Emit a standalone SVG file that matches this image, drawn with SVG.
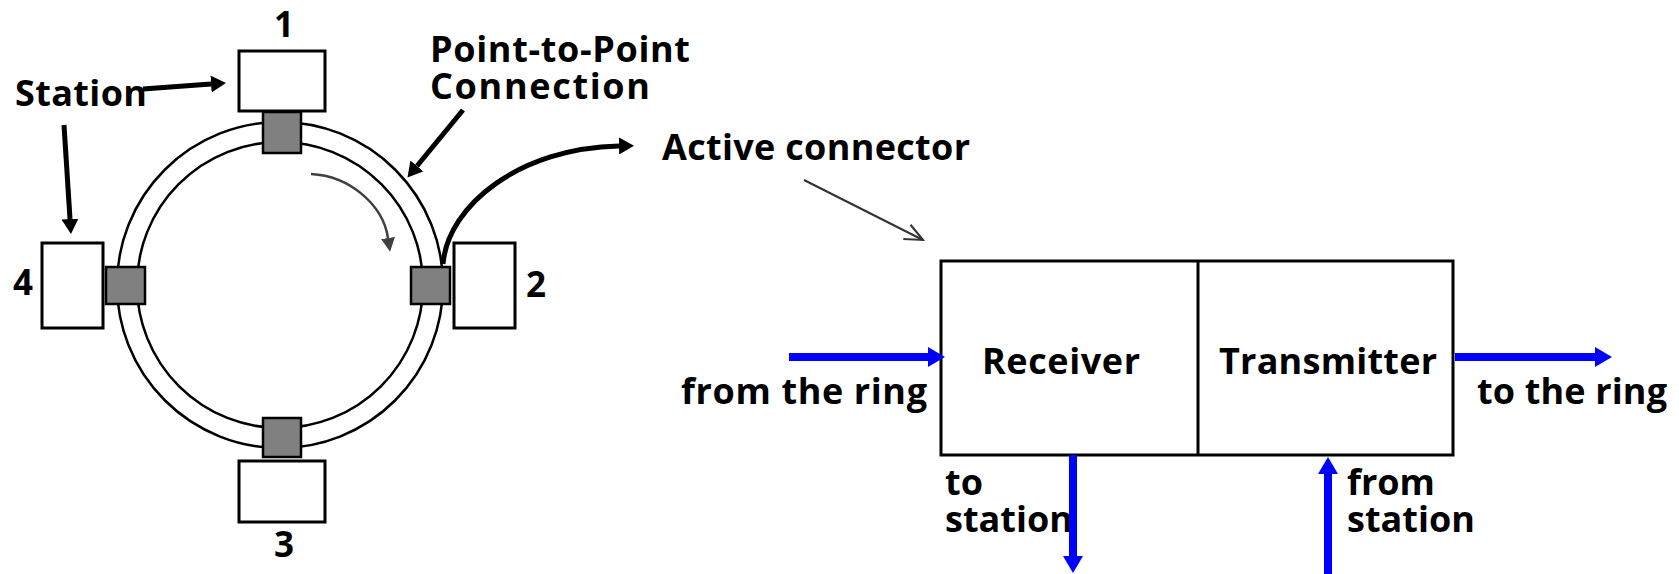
<svg xmlns="http://www.w3.org/2000/svg" width="1679" height="574" viewBox="0 0 1679 574">
<style>
  text { font-family: "Open Sans", "DejaVu Sans", "Liberation Sans", sans-serif; font-weight: bold; font-size: 36px; fill: #000; }
  .digit { font-size: 35px; }
  .box { fill: #fff; stroke: #000; stroke-width: 3; }
  .tap { fill: #808080; stroke: #000; stroke-width: 2.5; }
  .ring { fill: none; stroke: #000; stroke-width: 2.5; }
  .blk { fill: none; stroke: #000; stroke-width: 5; }
  .blue { fill: none; stroke: #0000ff; stroke-width: 8; }
</style>
<defs>
  <marker id="blackHead" viewBox="0 0 15 17" refX="0" refY="8.5" markerWidth="15" markerHeight="17" markerUnits="userSpaceOnUse" orient="auto">
    <path d="M0,0 L15,8.5 L0,17 z" fill="#000"/>
  </marker>
  <marker id="grayHead" viewBox="0 0 14 14" refX="0" refY="7" markerWidth="14" markerHeight="14" markerUnits="userSpaceOnUse" orient="auto">
    <path d="M0,0 L14,7 L0,14 z" fill="#404040"/>
  </marker>
  <marker id="openHead" viewBox="0 0 22 22" refX="20" refY="11" markerWidth="22" markerHeight="22" markerUnits="userSpaceOnUse" orient="auto">
    <path d="M2,3 L20,11 L2,19" fill="none" stroke="#333" stroke-width="2"/>
  </marker>
  <marker id="blueHead" viewBox="0 0 17 20" refX="0" refY="10" markerWidth="17" markerHeight="20" markerUnits="userSpaceOnUse" orient="auto">
    <path d="M0,0 L17,10 L0,20 z" fill="#0000ff"/>
  </marker>
</defs>

<g id="ring">
  <circle class="ring" cx="280" cy="285" r="163"/>
  <circle class="ring" cx="280" cy="285" r="143"/>
</g>

<g id="station1">
  <rect class="box" x="239" y="51" width="86" height="60"/>
  <rect class="tap" x="263" y="112" width="38" height="41"/>
  <text class="digit" x="274" y="37">1</text>
</g>
<g id="station2">
  <rect class="box" x="454" y="243" width="61" height="85"/>
  <rect class="tap" x="411" y="267" width="39" height="37"/>
  <text class="digit" x="526" y="297">2</text>
</g>
<g id="station3">
  <rect class="box" x="239" y="461" width="86" height="61"/>
  <rect class="tap" x="263" y="418" width="38" height="39"/>
  <text class="digit" x="274" y="557">3</text>
</g>
<g id="station4">
  <rect class="box" x="42" y="243" width="61" height="85"/>
  <rect class="tap" x="106" y="267" width="39" height="37"/>
  <text class="digit" x="13" y="295">4</text>
</g>

<g id="labels">
  <text x="15" y="106" textLength="132">Station</text>
  <text x="430" y="62" textLength="260">Point-to-Point</text>
  <text x="430" y="99" textLength="220">Connection</text>
  <text x="662" y="160" textLength="308">Active connector</text>
</g>

<g id="active-connector">
  <rect class="box" x="941" y="261" width="512" height="194"/>
  <line x1="1198" y1="261" x2="1198" y2="455" stroke="#000" stroke-width="3"/>
  <text x="982" y="374" textLength="158">Receiver</text>
  <text x="1219" y="374" textLength="218">Transmitter</text>
  <text x="681" y="404" textLength="246">from the ring</text>
  <text x="1477" y="404" textLength="190">to the ring</text>
  <text x="945" y="495">to</text>
  <text x="945" y="532" textLength="128">station</text>
  <text x="1347" y="495">from</text>
  <text x="1347" y="532" textLength="128">station</text>
</g>

<g id="connectors">
  <line class="blk" x1="143" y1="89" x2="211" y2="84" marker-end="url(#blackHead)"/>
  <line class="blk" x1="64" y1="125" x2="70" y2="219" marker-end="url(#blackHead)"/>
  <line class="blk" x1="463" y1="110" x2="417" y2="166" marker-end="url(#blackHead)"/>
  <path class="blk" d="M443,264 C448,205 520,148 619,146" stroke-width="6" marker-end="url(#blackHead)"/>
  <path d="M311,174 C350,176 383,205 388,238" fill="none" stroke="#404040" stroke-width="2.5" marker-end="url(#grayHead)"/>
  <line x1="804" y1="180" x2="923" y2="240" stroke="#333" stroke-width="2" marker-end="url(#openHead)"/>
  <line class="blue" x1="789" y1="357" x2="928" y2="357" marker-end="url(#blueHead)"/>
  <line class="blue" x1="1455" y1="357" x2="1595" y2="357" marker-end="url(#blueHead)"/>
  <line class="blue" x1="1073" y1="455" x2="1073" y2="556" marker-end="url(#blueHead)"/>
  <line class="blue" x1="1328" y1="574" x2="1328" y2="474" marker-end="url(#blueHead)"/>
</g>
</svg>
